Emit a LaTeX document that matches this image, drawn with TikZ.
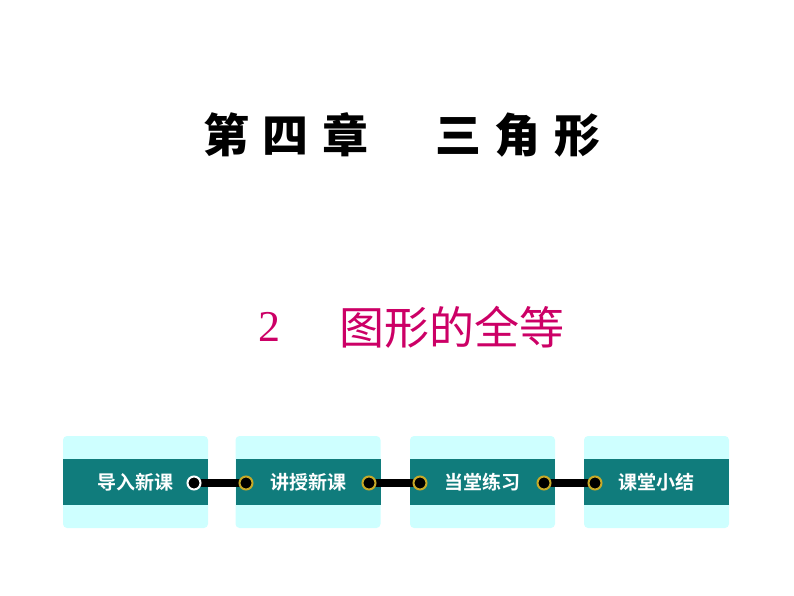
\documentclass[tikz,border=0pt]{standalone}
\usepackage{fontspec}
\newfontfamily\cjk{Noto Sans CJK SC}
\newfontfamily\cjkbold{Noto Sans CJK SC Black}
\newfontfamily\cjkbtn{Noto Sans CJK SC Bold}
\setmainfont{Liberation Serif}
\definecolor{bandteal}{RGB}{16,124,124}
\definecolor{cardcyan}{RGB}{206,255,255}
\definecolor{titlemag}{RGB}{204,0,102}
\definecolor{ringgold}{RGB}{200,170,40}
\tikzset{
  card/.style={fill=cardcyan,rounded corners=4pt,minimum width=145pt,minimum height=92pt,inner sep=0pt},
  band/.style={fill=bandteal,minimum width=145pt,minimum height=46pt,inner sep=0pt,
    text=white,font=\cjkbtn\fontsize{19}{19}\selectfont},
  ring/.style={circle,draw=#1,line width=2pt,fill=black,minimum size=13pt,inner sep=0pt},
  link/.style={line width=8pt,black},
  bigtitle/.style={font=\cjkbold\fontsize{46}{46}\selectfont\addfontfeature{LetterSpace=30}}
}
\begin{document}
\begin{tikzpicture}[x=1pt,y=-1pt]
\useasboundingbox (0,0) rectangle (794,596);
\node[bigtitle] (title1) at (286,135) {第四章};
\node[bigtitle] (title2) at (518,135) {三角形};
\node[text=titlemag] (num) at (269,327) {\fontsize{44}{44}\selectfont 2};
\node[text=titlemag] (sub) at (452,327) {\cjk\fontsize{45}{45}\selectfont 图形的全等};

\node[card] (c1) at (135.5,482) {};
\node[card] (c2) at (308,482) {};
\node[card] (c3) at (482.5,482) {};
\node[card] (c4) at (656.5,482) {};

\node[band] (b1) at (c1) {导入新课};
\node[band] (b2) at (c2) {讲授新课};
\node[band] (b3) at (c3) {当堂练习};
\node[band] (b4) at (c4) {课堂小结};

\coordinate (r1) at (194,483);
\coordinate (l2) at (246,483);
\coordinate (r2) at (369,483);
\coordinate (l3) at (420,483);
\coordinate (r3) at (544,483);
\coordinate (l4) at (595,483);

\draw[link] (r1) -- (l2);
\draw[link] (r2) -- (l3);
\draw[link] (r3) -- (l4);

\node[ring=white] at (r1) {};
\foreach \p in {l2,r2,l3,r3,l4}
  \node[ring=ringgold] at (\p) {};
\end{tikzpicture}
\end{document}
